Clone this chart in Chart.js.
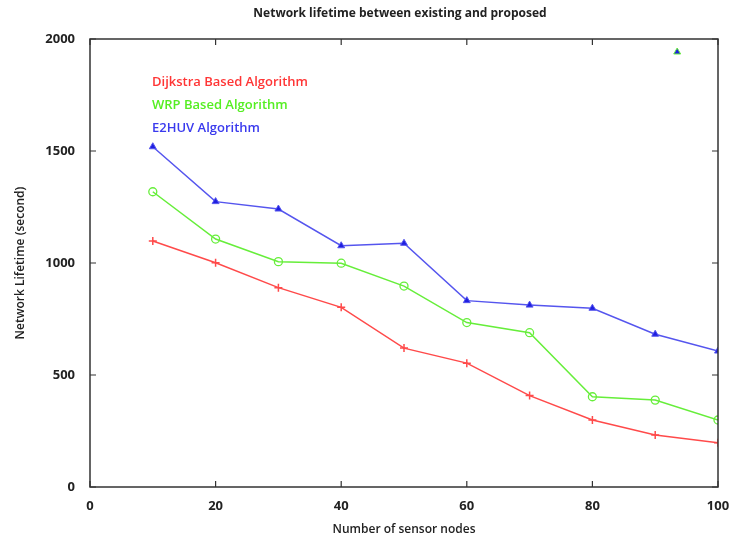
<!DOCTYPE html>
<html>
<head>
<meta charset="utf-8">
<script src="https://cdn.jsdelivr.net/npm/chart.js@4"></script>
<style>
    html, body { margin: 0; padding: 0; background: #fff; }
    #wrap { width: 734px; height: 540px; }
</style>
</head>
<body>
<div id="wrap"><canvas id="lifetimeChart" width="734" height="540"></canvas></div>
<script>
// Values
const nodes = [10, 20, 30, 40, 50, 60, 70, 80, 90, 100];
const dijkstra = [1098, 1001, 890, 802, 620, 553, 408, 299, 232, 198];
const wrp = [1318, 1107, 1006, 999, 897, 734, 689, 403, 388, 299];
const e2huv = [1519, 1274, 1241, 1077, 1088, 832, 812, 798, 682, 607];
// lone marker near the top right corner
const strayX = [93.5];
const strayY = [1942];

const xTicks = [0, 20, 40, 60, 80, 100];
const yTicks = [0, 500, 1000, 1500, 2000];
const legendLabels = ['Dijkstra Based Algorithm', 'WRP Based Algorithm', 'E2HUV Algorithm'];
const legendColors = ['#ff3535', '#55ee22', '#3a3aee'];

const FONT = "'Open Sans', 'DejaVu Sans', sans-serif";

function toPoints(xs, ys) {
    return xs.map((x, i) => ({ x: x, y: ys[i] }));
}

// Frame box, inner ticks, text legend and title
const framePlugin = {
    id: 'frame',
    afterDraw(chart) {
        const ctx = chart.ctx;
        const area = chart.chartArea;
        const xs = chart.scales.x;
        const ys = chart.scales.y;
        ctx.save();
        ctx.strokeStyle = '#333';
        ctx.lineWidth = 1.5;
        ctx.strokeRect(area.left, area.top, area.right - area.left, area.bottom - area.top);

        ctx.lineWidth = 1.2;
        ctx.beginPath();
        xTicks.forEach(v => {
            const px = xs.getPixelForValue(v);
            ctx.moveTo(px, area.bottom);
            ctx.lineTo(px, area.bottom - 6);
            ctx.moveTo(px, area.top);
            ctx.lineTo(px, area.top + 6);
        });
        yTicks.forEach(v => {
            const py = ys.getPixelForValue(v);
            ctx.moveTo(area.left, py);
            ctx.lineTo(area.left + 6, py);
            ctx.moveTo(area.right, py);
            ctx.lineTo(area.right - 6, py);
        });
        ctx.stroke();

        // legend (text only)
        ctx.font = '600 13px ' + FONT;
        ctx.textBaseline = 'middle';
        ctx.textAlign = 'left';
        legendLabels.forEach((label, i) => {
            ctx.fillStyle = legendColors[i];
            ctx.fillText(label, area.left + 62, area.top + 43 + i * 23);
        });

        // title
        ctx.font = '700 12px ' + FONT;
        ctx.fillStyle = '#222';
        ctx.textAlign = 'center';
        ctx.fillText('Network lifetime between existing and proposed', 400, 14);
        ctx.restore();
    }
};

const ctx = document.getElementById('lifetimeChart').getContext('2d');
new Chart(ctx, {
    type: 'line',
    data: {
        datasets: [
            {
                data: toPoints(nodes, dijkstra),
                borderColor: '#ff4a4a',
                backgroundColor: '#ff4a4a',
                borderWidth: 1.5,
                pointStyle: 'cross',
                pointRadius: 4,
                pointBorderWidth: 1.5
            },
            {
                data: toPoints(nodes, wrp),
                borderColor: '#66ee3a',
                backgroundColor: 'rgba(0,0,0,0)',
                borderWidth: 1.5,
                pointStyle: 'circle',
                pointRadius: 4,
                pointBorderWidth: 1.3
            },
            {
                data: toPoints(nodes, e2huv),
                borderColor: '#5555ee',
                backgroundColor: '#1f1fe0',
                borderWidth: 1.5,
                pointStyle: 'triangle',
                pointRadius: 4,
                pointBorderWidth: 1
            },
            {
                data: toPoints(strayX, strayY),
                showLine: false,
                borderColor: '#66ee3a',
                backgroundColor: '#1f1fe0',
                pointStyle: 'triangle',
                pointRadius: 4,
                pointBorderWidth: 1
            }
        ]
    },
    options: {
        responsive: false,
        animation: false,
        layout: {
            padding: { top: 39, right: 16, bottom: 0, left: 0 }
        },
        plugins: {
            legend: { display: false },
            tooltip: { enabled: false },
            title: { display: false }
        },
        scales: {
            x: {
                type: 'linear',
                min: 0,
                max: 100,
                afterBuildTicks: (scale) => { scale.ticks = xTicks.map(v => ({ value: v })); },
                afterFit: (scale) => {
                    scale.height = 53;
                    scale.paddingRight = 0;
                    scale.paddingLeft = 0;
                },
                grid: { display: false, drawTicks: false },
                border: { display: false },
                ticks: {
                    padding: 11,
                    color: '#222',
                    font: { family: FONT, size: 13, weight: '700' }
                },
                title: {
                    display: true,
                    text: 'Number of sensor nodes',
                    color: '#222',
                    font: { family: FONT, size: 12, weight: '600' },
                    padding: { top: 4, bottom: 3 }
                }
            },
            y: {
                min: 0,
                max: 2000,
                afterBuildTicks: (scale) => { scale.ticks = yTicks.map(v => ({ value: v })); },
                afterFit: (scale) => {
                    scale.width = 90;
                    scale.paddingTop = 0;
                    scale.paddingBottom = 0;
                },
                grid: { display: false, drawTicks: false },
                border: { display: false },
                ticks: {
                    padding: 15,
                    color: '#222',
                    font: { family: FONT, size: 13, weight: '700' },
                    callback: (value) => String(value)
                },
                title: {
                    display: true,
                    text: 'Network Lifetime (second)',
                    color: '#222',
                    font: { family: FONT, size: 12, weight: '600' },
                    padding: { top: 13, bottom: 0 }
                }
            }
        }
    },
    plugins: [framePlugin]
});
</script>
</body>
</html>
